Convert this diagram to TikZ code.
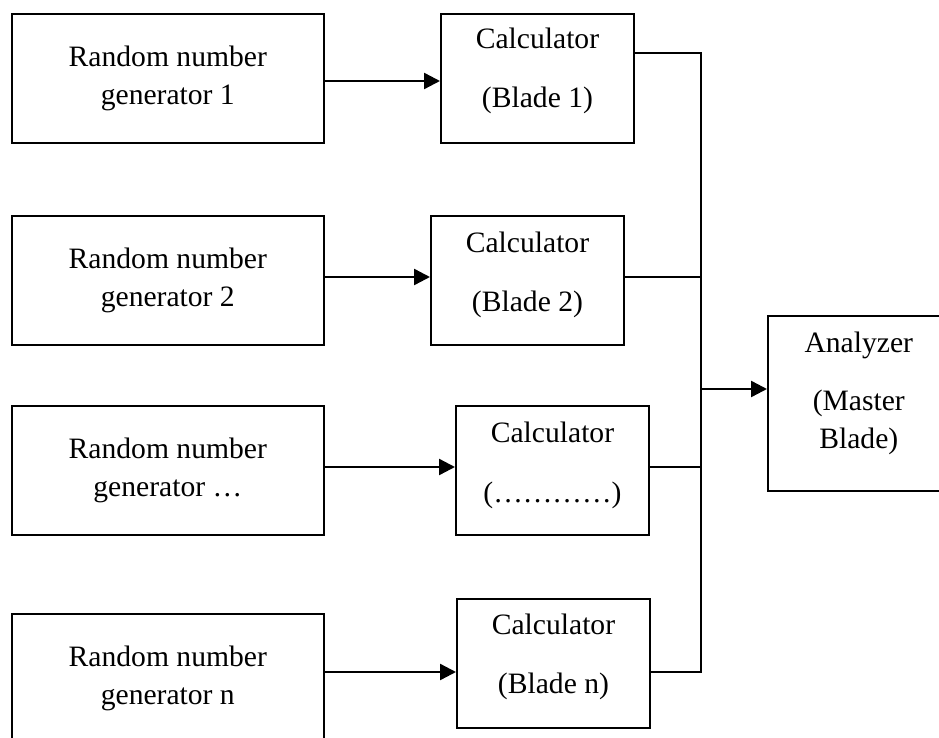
\documentclass[tikz,border=0pt]{standalone}
\usepackage{fontspec}
\setmainfont{Liberation Serif}
\usetikzlibrary{arrows.meta}
\begin{document}
\begin{tikzpicture}[x=0.75pt,y=-0.75pt,
  box/.style={draw=black, line width=1.2pt, rectangle, inner sep=0pt, anchor=north west},
  rng/.style={box, minimum width=234pt, minimum height=96.75pt},
  calc/.style={box, minimum width=145pt, minimum height=96.75pt},
  txt/.style={align=center, font=\fontsize{22.2}{28.5}\selectfont, inner sep=0pt},
  arr/.style={line width=1.8pt, -{Triangle[length=12pt,width=12pt]}},
  bus/.style={line width=1.2pt}]
\path[use as bounding box] (0,0) rectangle (939,738);
\clip (0,0) rectangle (939,738);

% boxes
\node[rng] (r1) at (11,13) {};
\node[rng] (r2) at (11,215) {};
\node[rng] (r3) at (11,405) {};
\node[rng] (r4) at (11,613) {};
\node[calc] (c1) at (440,13) {};
\node[calc] (c2) at (430,215) {};
\node[calc] (c3) at (455,405) {};
\node[calc] (c4) at (456,598) {};
\node[box, minimum width=136.5pt, minimum height=131.25pt] (an) at (767,315) {};

% texts
\node[txt] (t1) at (r1.center) {Random number\\generator 1};
\node[txt] (t2) at (r2.center) {Random number\\generator 2};
\node[txt] (t3) at (r3.center) {Random number\\generator …};
\node[txt] (t4) at (r4.center) {Random number\\generator n};
\node[txt, yshift=5.25pt] (u1) at (c1.center) {Calculator\\[15.75pt](Blade 1)};
\node[txt, yshift=4.2pt] (u2) at (c2.center) {Calculator\\[15.75pt](Blade 2)};
\node[txt, yshift=3.5pt] (u3) at (c3.center) {Calculator\\[16.5pt](…………)};
\node[txt, yshift=4.9pt] (u4) at (c4.center) {Calculator\\[15.75pt](Blade n)};
\node[txt, yshift=7.5pt] (ua) at (an.center) {Analyzer\\[15pt](Master\\Blade)};

% connector levels
\coordinate (y1) at (0,81);
\coordinate (y2) at (0,277);
\coordinate (y3) at (0,467);
\coordinate (y4) at (0,672);
\coordinate (btop) at (701,53);
\coordinate (bbot) at (701,672);
\coordinate (b2) at (701,277);
\coordinate (b3) at (701,467);
\coordinate (bout) at (701,389);

% arrows generator -> calculator
\draw[arr] (r1.east |- y1) -- (c1.west |- y1);
\draw[arr] (r2.east |- y2) -- (c2.west |- y2);
\draw[arr] (r3.east |- y3) -- (c3.west |- y3);
\draw[arr] (r4.east |- y4) -- (c4.west |- y4);

% bus
\draw[bus] (c1.east |- btop) -- (btop) -- (bbot) -- (c4.east |- bbot);
\draw[bus] (c2.east |- b2) -- (b2);
\draw[bus] (c3.east |- b3) -- (b3);
\draw[arr] (bout) -- (an.west |- bout);
\end{tikzpicture}
\end{document}
